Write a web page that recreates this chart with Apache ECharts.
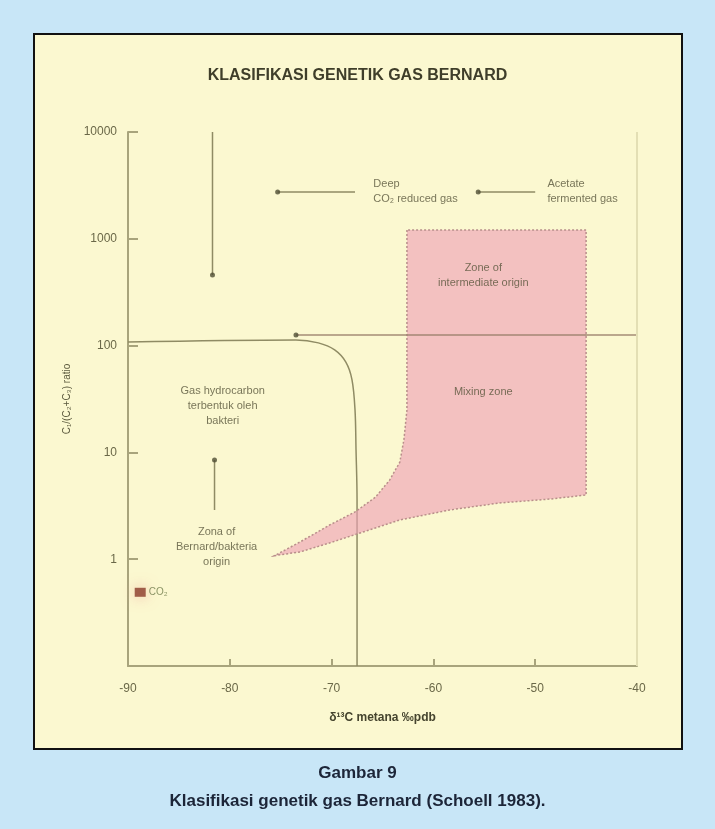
<!DOCTYPE html>
<html>
<head>
<meta charset="utf-8">
<script src="https://cdn.jsdelivr.net/npm/echarts@6/dist/echarts.min.js"></script>
<style>
  html, body { margin: 0; padding: 0; background: #c8e6f7; }
  #chart { width: 715px; height: 829px; }
</style>
</head>
<body>
<div id="chart"></div>
<script>
// Axis ticks (δ13C methane, ‰ PDB) and log-scale ratio range
const xTicks = [-90, -80, -70, -60, -50, -40];
const yRange = [0.1, 10000];

// Boundary of the bacterial-gas field: horizontal at ~110, bending down to -67.5 ‰
const boundaryCurve = [
  [-90, 108], [-73.5, 113], [-71.3, 106], [-69.7, 91], [-68.6, 70],
  [-68.0, 48], [-67.7, 25], [-67.6, 10.5], [-67.5, 3.6], [-67.5, 0.1]
];

// Outline of the mixing zone (left edge down, then back along the lower edge)
const mixingZone = [
  [-62.6, 1210], [-62.6, 25], [-62.9, 13.1], [-63.3, 8.1], [-64.3, 5.5],
  [-65.7, 3.8], [-67.7, 2.77], [-70.2, 2.09], [-73.1, 1.45], [-75.6, 1.08],
  [-73.1, 1.17], [-70.2, 1.42], [-67.2, 1.76], [-63.3, 2.33], [-58.4, 2.89],
  [-53.5, 3.36], [-48.5, 3.66], [-45.0, 3.99], [-45.0, 1210]
];

// Arrow shafts: [start, head]
const arrowShallow = [[-40, 126], [-73.5, 126]];
const arrowDown = [[-81.7, 10000], [-81.7, 457]];
const arrowDeep = [[-67.7, 2750], [-75.3, 2750]];
const arrowAcetate = [[-50.0, 2750], [-55.6, 2750]];
const arrowUp = [[-81.5, 2.89], [-81.5, 8.5]];
const arrows = [arrowShallow, arrowDown, arrowDeep, arrowAcetate, arrowUp];

// CO2 sample
const co2Point = [[-88.8, 0.49]];

// Field annotations: [x, y, text, align]
const notes = [
  [-65.9, 2750, 'Deep\nCO₂ reduced gas', 'left'],
  [-48.8, 2750, 'Acetate\nfermented gas', 'left'],
  [-55.1, 457, 'Zone of\nintermediate origin', 'center'],
  [-55.1, 36.8, 'Mixing zone', 'center'],
  [-80.7, 27.2, 'Gas hydrocarbon\nterbentuk oleh\nbakteri', 'center'],
  [-81.3, 1.30, 'Zona of\nBernard/bakteria\norigin', 'center']
];

const FONT = '"Liberation Sans", Arial, sans-serif';
const AXIS = '#a8a47c';
const LINE = '#8f8b64';
const TEXT = '#57553b';

const chart = echarts.init(document.getElementById('chart'), null, { renderer: 'canvas' });

const series = [];

// Mixing zone
series.push({
  type: 'custom',
  coordinateSystem: 'cartesian2d',
  z: 3,
  silent: true,
  data: [[-60, 100]],
  renderItem: function (params, api) {
    const pts = mixingZone.map(p => api.coord(p));
    return {
      type: 'polygon',
      shape: { points: pts },
      style: {
        fill: 'rgba(238,160,182,0.62)',
        stroke: '#b88e8a',
        lineWidth: 1.5,
        lineDash: [2, 2]
      }
    };
  }
});

// Field boundary
series.push({
  type: 'line',
  data: boundaryCurve,
  smooth: 0.35,
  showSymbol: false,
  z: 2,
  lineStyle: { color: LINE, width: 1.5 }
});

// Arrow shafts with a dot at the head; the long shallow-gas line runs over the mixing zone
arrows.forEach((a, i) => {
  series.push({
    type: 'line',
    data: a,
    showSymbol: false,
    z: i === 0 ? 4 : 2,
    lineStyle: { color: i === 0 ? '#9a7f6a' : LINE, width: 1.5, opacity: i === 0 ? 0.9 : 1 }
  });
});
series.push({
  type: 'scatter',
  data: arrows.map(a => a[1]),
  symbol: 'circle',
  symbolSize: 5,
  z: 5,
  itemStyle: { color: '#4f4d33' }
});

// Right edge of the plot
series.push({
  type: 'line',
  data: [],
  markLine: {
    silent: true,
    symbol: 'none',
    label: { show: false },
    lineStyle: { color: '#e3dfb4', width: 2, type: 'solid' },
    data: [{ xAxis: xTicks[xTicks.length - 1] }]
  }
});

// CO2 sample
series.push({
  type: 'scatter',
  data: co2Point,
  symbol: 'rect',
  symbolSize: [11, 9],
  z: 5,
  itemStyle: { color: '#8a3a28', shadowColor: 'rgba(240,160,150,0.9)', shadowBlur: 14 },
  label: {
    show: true,
    position: 'right',
    distance: 3,
    formatter: 'CO₂',
    fontFamily: FONT,
    fontSize: 10,
    color: '#6e7a4a'
  }
});

// Field annotations
series.push({
  type: 'scatter',
  data: notes.map(n => ({
    value: [n[0], n[1]],
    label: {
      show: true,
      position: 'inside',
      align: n[3],
      verticalAlign: 'middle',
      formatter: n[2],
      fontFamily: FONT,
      fontSize: 11,
      lineHeight: 15,
      color: TEXT
    }
  })),
  symbolSize: 0,
  z: 6,
  silent: true
});

chart.setOption({
  animation: false,
  backgroundColor: '#c8e6f7',
  graphic: [
    {
      type: 'rect',
      shape: { x: 34, y: 34, width: 648, height: 715 },
      style: { fill: '#fbf8d0', stroke: '#111', lineWidth: 2 },
      z: -10
    },
    {
      type: 'text',
      left: 'center',
      top: 765,
      style: {
        text: 'Gambar 9',
        font: 'bold 17px ' + FONT,
        fill: '#1c2538',
        textAlign: 'center'
      }
    },
    {
      type: 'text',
      left: 'center',
      top: 793,
      style: {
        text: 'Klasifikasi genetik gas Bernard (Schoell 1983).',
        font: 'bold 17px ' + FONT,
        fill: '#1c2538',
        textAlign: 'center'
      }
    }
  ],
  title: {
    text: 'KLASIFIKASI GENETIK GAS BERNARD',
    left: 'center',
    top: 63,
    textStyle: { fontFamily: FONT, fontSize: 16, fontWeight: 'bold', color: '#3f3e2a' }
  },
  grid: { left: 128, right: 78, top: 132, bottom: 163 },
  xAxis: {
    type: 'value',
    min: xTicks[0],
    max: xTicks[xTicks.length - 1],
    interval: 10,
    name: 'δ¹³C metana ‰pdb',
    nameLocation: 'middle',
    nameGap: 46,
    nameTextStyle: { fontFamily: FONT, fontSize: 12, fontWeight: 'bold', color: '#45442e' },
    axisLine: { lineStyle: { color: AXIS, width: 2 } },
    axisTick: { inside: true, length: 7, lineStyle: { color: AXIS, width: 2 } },
    axisLabel: { fontFamily: FONT, fontSize: 12, color: '#6a6848', margin: 17 },
    splitLine: { show: false }
  },
  yAxis: {
    type: 'log',
    logBase: 10,
    min: yRange[0],
    max: yRange[1],
    name: 'C₁/(C₂+C₃) ratio',
    nameLocation: 'middle',
    nameRotate: 90,
    nameGap: 56,
    nameTextStyle: { fontFamily: FONT, fontSize: 10, color: '#5c5a3e' },
    axisLine: { lineStyle: { color: AXIS, width: 2 } },
    axisTick: { inside: true, length: 10, lineStyle: { color: AXIS, width: 2 } },
    axisLabel: {
      fontFamily: FONT, fontSize: 12, color: '#6a6848', margin: 11,
      formatter: v => (v < 1 ? '' : String(Math.round(v)))
    },
    splitLine: { show: false }
  },
  series: series
});
</script>
</body>
</html>
